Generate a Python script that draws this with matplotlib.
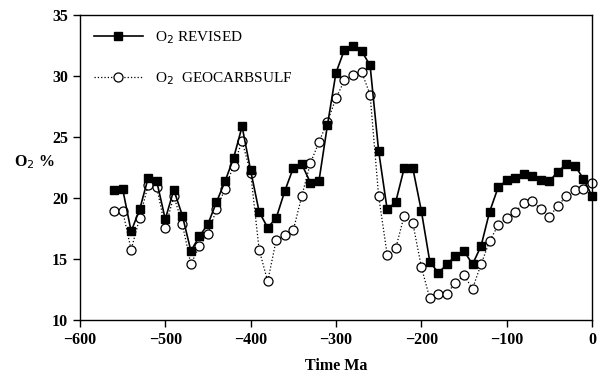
import matplotlib.pyplot as plt

plt.rcParams['font.family'] = 'Liberation Serif'

# time points (Ma)
time_ma = [-560, -550, -540, -530, -520, -510, -500, -490, -480, -470,
           -460, -450, -440, -430, -420, -410, -400, -390, -380, -370,
           -360, -350, -340, -330, -320, -310, -300, -290, -280, -270,
           -260, -250, -240, -230, -220, -210, -200, -190, -180, -170,
           -160, -150, -140, -130, -120, -110, -100, -90, -80, -70,
           -60, -50, -40, -30, -20, -10, 0]

# O2 % revised model
o2_revised = [20.7, 20.8, 17.3, 19.1, 21.7, 21.4, 18.3, 20.7, 18.6, 15.7,
              16.9, 17.9, 19.7, 21.4, 23.3, 25.9, 22.3, 18.9, 17.6, 18.4,
              20.6, 22.5, 22.8, 21.3, 21.4, 26.0, 30.3, 32.2, 32.5, 32.1,
              30.9, 23.9, 19.1, 19.7, 22.5, 22.5, 19.0, 14.8, 13.9, 14.6,
              15.3, 15.7, 14.6, 16.1, 18.9, 20.9, 21.5, 21.7, 22.0, 21.8,
              21.5, 21.4, 22.2, 22.8, 22.7, 21.6, 20.2]

# O2 % GEOCARBSULF
o2_geocarbsulf = [19.0, 19.0, 15.8, 18.4, 21.1, 20.9, 17.6, 20.2, 17.9, 14.6,
                  16.1, 17.1, 19.1, 20.8, 22.7, 24.7, 22.1, 15.8, 13.2, 16.6,
                  17.0, 17.4, 20.2, 22.9, 24.6, 26.3, 28.2, 29.7, 30.1, 30.4,
                  28.5, 20.2, 15.4, 15.9, 18.6, 18.0, 14.4, 11.8, 12.2, 12.2,
                  13.1, 13.7, 12.6, 14.6, 16.5, 17.8, 18.4, 18.9, 19.6, 19.8,
                  19.1, 18.5, 19.4, 20.2, 20.7, 20.8, 21.3]

fig = plt.figure(figsize=(6.01, 3.77), dpi=100)
ax = fig.add_axes([0.133, 0.150, 0.852, 0.809])

ax.plot(time_ma, o2_geocarbsulf, color='black', linestyle=':', linewidth=0.9,
        marker='o', markersize=6.5, markerfacecolor='white',
        markeredgecolor='black', markeredgewidth=0.9,
        label='O$_2$  GEOCARBSULF', zorder=2, clip_on=False)
ax.plot(time_ma, o2_revised, color='black', linestyle='-', linewidth=1.2,
        marker='s', markersize=6.2, markerfacecolor='black',
        markeredgecolor='black', label='O$_2$ REVISED', zorder=3,
        clip_on=False)

ax.set_xlim(-600, 0)
ax.set_ylim(10, 35)
ax.set_xticks([-600, -500, -400, -300, -200, -100, 0])
ax.set_yticks([10, 15, 20, 25, 30, 35])
ax.tick_params(direction='out', length=5, width=1, labelsize=11.5,
               top=False, right=False)
for lab in ax.get_xticklabels() + ax.get_yticklabels():
    lab.set_fontweight('bold')
for sp in ax.spines.values():
    sp.set_linewidth(1.0)

ax.set_xlabel('Time Ma', fontsize=11.5, fontweight='bold', labelpad=7)
ax.set_ylabel('O$_2$ %', fontsize=11.5, fontweight='bold', rotation=0,
              va='center')
ax.yaxis.set_label_coords(-0.09, 0.52)

handles, labels = ax.get_legend_handles_labels()
ax.legend(handles[::-1], labels[::-1], loc='upper left', frameon=False,
          fontsize=11, handlelength=3.2, labelspacing=1.6,
          bbox_to_anchor=(0.0, 1.0))

fig.savefig('out.png', dpi=100)
